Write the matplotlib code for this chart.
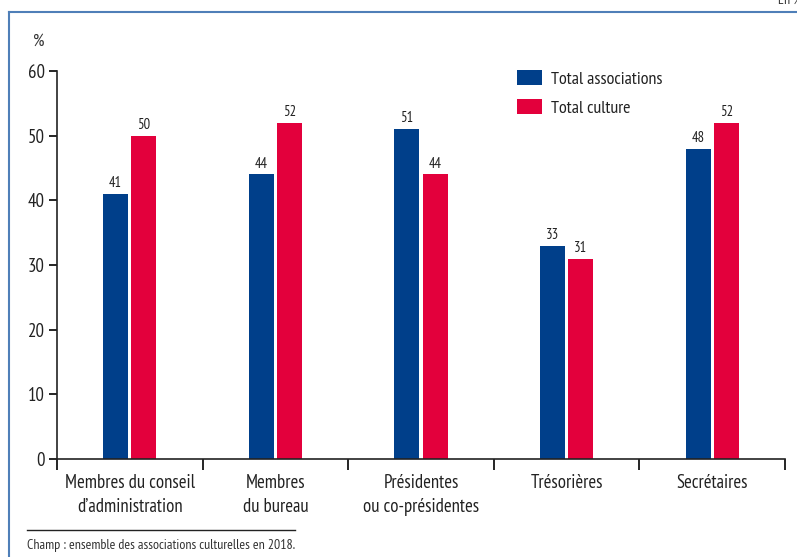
import matplotlib
matplotlib.use("Agg")
import matplotlib.pyplot as plt
from matplotlib.lines import Line2D
import numpy as np

plt.rcParams['font.family'] = ['PT Sans Narrow', 'DejaVu Sans']

categories = ["Membres du conseil\nd\u2019administration", "Membres\ndu bureau",
              "Présidentes\nou co-présidentes", "Trésorières", "Secrétaires"]
total_associations = [41, 44, 51, 33, 48]
total_culture = [50, 52, 44, 31, 52]
series_names = ["Total associations", "Total culture"]
yticks = [0, 10, 20, 30, 40, 50, 60]

BLUE = "#003f8a"
RED = "#e3003c"
FRAME = "#4f7fb8"
TXT = "#222222"

fig = plt.figure(figsize=(7.97, 5.57), dpi=100)
W, H = 797, 557
ax = fig.add_axes([57 / W, 1 - 459 / H, (785 - 57) / W, (459 - 71) / H])

x = np.arange(len(categories))
bw = 0.172
off = 0.097
b1 = ax.bar(x - off, total_associations, bw, color=BLUE, label=series_names[0])
b2 = ax.bar(x + off, total_culture, bw, color=RED, label=series_names[1])
for bars, vals in ((b1, total_associations), (b2, total_culture)):
    for r, v in zip(bars, vals):
        ax.text(r.get_x() + r.get_width() / 2, v + 0.6, str(v), ha='center', va='bottom',
                fontsize=10.5, color=TXT)

ax.set_xlim(-0.5, len(categories) - 0.5)
ax.set_ylim(0, 60)
ax.set_yticks(yticks)
ax.set_yticklabels([str(t) for t in yticks], fontsize=13.5, color=TXT)
ax.set_xticks(np.arange(len(categories) + 1) - 0.5)
ax.set_xticklabels([])
ax.set_xticks(x, minor=True)
ax.set_xticklabels(categories, minor=True, fontsize=13.5, linespacing=1.4, color=TXT)
ax.tick_params(axis='x', which='minor', length=0, pad=11)
ax.tick_params(axis='x', which='major', length=8, width=1.2, direction='out')
ax.tick_params(axis='y', length=6, width=1.2, direction='out', pad=3)
for s in ('top', 'right'):
    ax.spines[s].set_visible(False)
for s in ('left', 'bottom'):
    ax.spines[s].set_linewidth(1.2)
    ax.spines[s].set_color(TXT)

leg = ax.legend(loc='upper left', bbox_to_anchor=(0.61, 1.045), frameon=False, fontsize=13,
                handlelength=1.35, handleheight=0.9, handletextpad=0.5, labelspacing=0.65)
for t in leg.get_texts():
    t.set_color(TXT)

fig.text(33 / W, 1 - 42 / H, "%", fontsize=13, color='#333333', va='center')

# frame
fig.add_artist(Line2D([9 / W, 9 / W], [0, 1 - 12 / H], color=FRAME, lw=1.5))
fig.add_artist(Line2D([9 / W, 1], [1 - 12 / H, 1 - 12 / H], color=FRAME, lw=1.5))
fig.text(778 / W, 1.0, "En %", fontsize=10, style='italic', color='#333333', va='center', ha='left')

# footnote
fig.add_artist(Line2D([27 / W, 295 / W], [1 - 530 / H, 1 - 530 / H], color=TXT, lw=1))
fig.text(27 / W, 1 - 546 / H, "Champ : ensemble des associations culturelles en 2018.",
         fontsize=10, color='#333333', va='center')

fig.savefig("out.png", dpi=100)
